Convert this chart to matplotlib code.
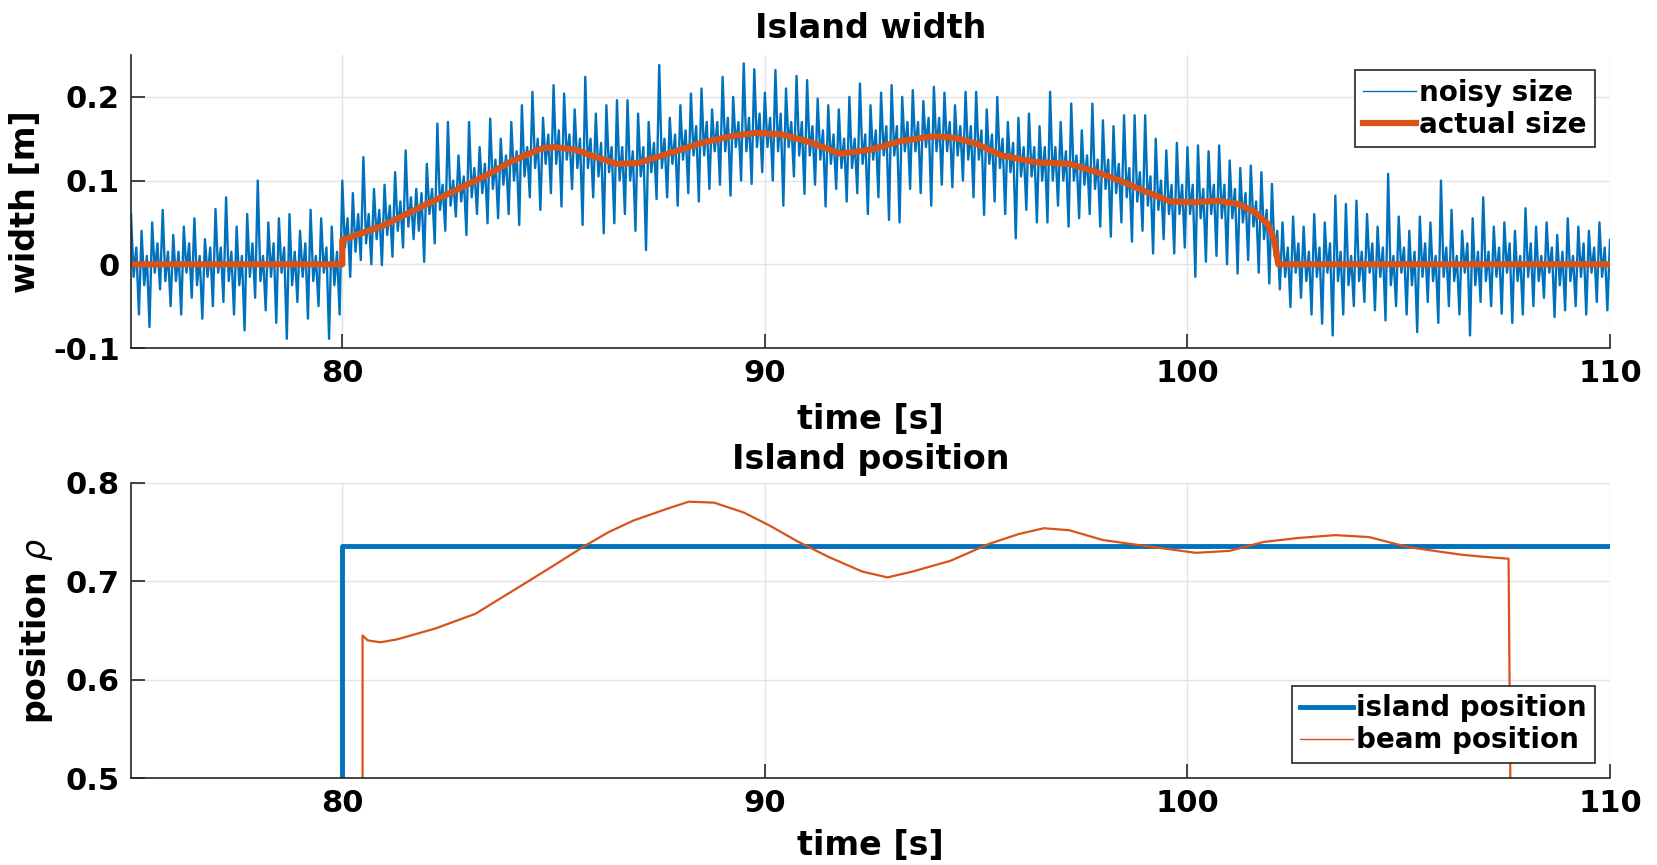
import numpy as np
import matplotlib
matplotlib.use("Agg")
import matplotlib.pyplot as plt
from matplotlib.lines import Line2D

plt.rcParams["font.family"] = "DejaVu Sans"
plt.rcParams["font.weight"] = "bold"
plt.rcParams["axes.unicode_minus"] = False
plt.rcParams["mathtext.fontset"] = "custom"
plt.rcParams["mathtext.it"] = "DejaVu Sans:italic:normal"
plt.rcParams["mathtext.rm"] = "DejaVu Sans:normal"

BLUE = "#0072BD"
ORANGE = "#D95319"
AX_COL = "#262626"
GRID_COL = "#e3e3e3"

# measured island width, one sample every 0.0625 s from 75 s to 110 s
noisy_size = [
    0.060, -0.015, 0.020, -0.060, 0.040, -0.025, 0.010, -0.075, 0.050, -0.010, 0.025, -0.030, 0.065, -0.020, 0.015, -0.050,  # 75
    0.035, -0.020, 0.015, -0.060, 0.045, -0.010, 0.025, -0.040, 0.055, -0.025, 0.010, -0.065, 0.030, -0.015, 0.020, -0.050,  # 76
    0.066, -0.010, 0.020, -0.045, 0.080, -0.020, 0.015, -0.060, 0.045, -0.025, 0.010, -0.079, 0.060, -0.015, 0.025, -0.040,  # 77
    0.100, -0.020, 0.010, -0.055, 0.050, -0.015, 0.025, -0.070, 0.055, -0.010, 0.020, -0.089, 0.060, -0.025, 0.015, -0.045,  # 78
    0.040, -0.015, 0.025, -0.065, 0.065, -0.020, 0.010, -0.050, 0.055, -0.010, 0.020, -0.089, 0.045, -0.025, 0.015, -0.060,  # 79
    0.100, 0.020, 0.055, -0.015, 0.085, 0.015, 0.060, 0.005, 0.128, 0.025, 0.060, 0.000, 0.090, 0.030, 0.065, -0.001,        # 80
    0.095, 0.035, 0.070, 0.009, 0.110, 0.040, 0.075, 0.020, 0.136, 0.045, 0.080, 0.030, 0.090, 0.040, 0.085, 0.003,          # 81
    0.120, 0.060, 0.090, 0.025, 0.168, 0.065, 0.095, 0.040, 0.170, 0.070, 0.100, 0.057, 0.130, 0.075, 0.105, 0.035,          # 82
    0.170, 0.080, 0.115, 0.060, 0.140, 0.085, 0.120, 0.049, 0.174, 0.090, 0.125, 0.055, 0.150, 0.095, 0.130, 0.060,          # 83
    0.170, 0.100, 0.135, 0.047, 0.190, 0.105, 0.140, 0.080, 0.206, 0.115, 0.150, 0.065, 0.175, 0.120, 0.155, 0.085,          # 84
    0.214, 0.120, 0.160, 0.069, 0.204, 0.125, 0.155, 0.090, 0.185, 0.115, 0.150, 0.047, 0.224, 0.115, 0.150, 0.080,          # 85
    0.180, 0.105, 0.145, 0.037, 0.190, 0.110, 0.140, 0.049, 0.196, 0.100, 0.140, 0.060, 0.196, 0.100, 0.135, 0.040,          # 86
    0.180, 0.105, 0.140, 0.017, 0.170, 0.110, 0.145, 0.078, 0.238, 0.115, 0.150, 0.080, 0.175, 0.120, 0.155, 0.070,          # 87
    0.190, 0.125, 0.160, 0.085, 0.204, 0.130, 0.165, 0.075, 0.210, 0.130, 0.170, 0.090, 0.185, 0.135, 0.170, 0.095,          # 88
    0.224, 0.135, 0.175, 0.082, 0.200, 0.140, 0.170, 0.100, 0.240, 0.135, 0.175, 0.096, 0.233, 0.140, 0.180, 0.110,          # 89
    0.205, 0.140, 0.175, 0.100, 0.232, 0.135, 0.180, 0.070, 0.210, 0.140, 0.170, 0.105, 0.225, 0.130, 0.170, 0.084,          # 90
    0.220, 0.130, 0.165, 0.095, 0.198, 0.125, 0.160, 0.069, 0.190, 0.120, 0.155, 0.090, 0.185, 0.115, 0.150, 0.075,          # 91
    0.200, 0.115, 0.150, 0.085, 0.216, 0.120, 0.155, 0.060, 0.190, 0.125, 0.160, 0.080, 0.205, 0.130, 0.165, 0.053,          # 92
    0.214, 0.130, 0.165, 0.050, 0.200, 0.135, 0.170, 0.090, 0.208, 0.135, 0.170, 0.085, 0.195, 0.140, 0.175, 0.070,          # 93
    0.212, 0.135, 0.175, 0.095, 0.205, 0.135, 0.170, 0.092, 0.190, 0.130, 0.165, 0.100, 0.206, 0.125, 0.165, 0.080,          # 94
    0.206, 0.125, 0.160, 0.059, 0.185, 0.120, 0.155, 0.075, 0.200, 0.115, 0.150, 0.060, 0.170, 0.110, 0.145, 0.031,          # 95
    0.175, 0.105, 0.140, 0.065, 0.180, 0.105, 0.140, 0.050, 0.165, 0.100, 0.140, 0.050, 0.206, 0.100, 0.140, 0.070,          # 96
    0.170, 0.100, 0.135, 0.045, 0.192, 0.100, 0.130, 0.055, 0.160, 0.095, 0.130, 0.060, 0.192, 0.090, 0.125, 0.045,          # 97
    0.172, 0.090, 0.125, 0.033, 0.165, 0.085, 0.120, 0.050, 0.178, 0.080, 0.115, 0.027, 0.178, 0.075, 0.110, 0.040,          # 98
    0.178, 0.070, 0.105, 0.013, 0.150, 0.065, 0.100, 0.030, 0.136, 0.060, 0.095, 0.013, 0.145, 0.060, 0.095, 0.020,          # 99
    0.140, 0.060, 0.095, -0.015, 0.142, 0.055, 0.090, 0.003, 0.135, 0.060, 0.095, 0.010, 0.142, 0.055, 0.095, 0.000,         # 100
    0.124, 0.055, 0.090, -0.011, 0.115, 0.050, 0.085, 0.005, 0.118, 0.045, 0.075, -0.010, 0.110, 0.030, 0.065, -0.023,       # 101
    0.096, 0.010, 0.040, -0.030, 0.050, -0.015, 0.020, -0.051, 0.057, -0.010, 0.025, -0.040, 0.045, -0.020, 0.015, -0.060,   # 102
    0.060, -0.015, 0.020, -0.071, 0.050, -0.010, 0.025, -0.085, 0.082, -0.020, 0.015, -0.060, 0.072, -0.025, 0.010, -0.050,  # 103
    0.076, -0.020, 0.015, -0.045, 0.060, -0.010, 0.025, -0.055, 0.045, -0.015, 0.020, -0.067, 0.108, -0.025, 0.010, -0.050,  # 104
    0.057, -0.010, 0.020, -0.060, 0.040, -0.025, 0.015, -0.081, 0.057, -0.015, 0.025, -0.045, 0.050, -0.020, 0.010, -0.070,  # 105
    0.100, -0.015, 0.020, -0.050, 0.065, -0.020, 0.010, -0.060, 0.040, -0.010, 0.025, -0.085, 0.055, -0.025, 0.015, -0.045,  # 106
    0.080, -0.020, 0.015, -0.050, 0.045, -0.015, 0.020, -0.059, 0.050, -0.010, 0.025, -0.070, 0.040, -0.020, 0.010, -0.060,  # 107
    0.067, -0.015, 0.025, -0.050, 0.045, -0.020, 0.010, -0.040, 0.050, -0.010, 0.020, -0.063, 0.035, -0.025, 0.015, -0.055,  # 108
    0.055, -0.020, 0.010, -0.050, 0.045, -0.015, 0.025, -0.060, 0.040, -0.010, 0.020, -0.045, 0.050, -0.015, 0.020, -0.055,  # 109
    0.029,                                                                                                                  # 110
]
noisy_t = np.linspace(75, 110, len(noisy_size))

# true island width
actual_t = [75, 80, 80, 80.5, 81, 81.8, 82.5, 83.4, 84.0, 84.7, 85.0, 85.5,
            86.0, 86.5, 87.0, 87.7, 88.5, 89.2, 89.8, 90.4, 91.0, 91.8, 92.5,
            93.2, 94.0, 94.5, 95.0, 95.6, 96.4, 97.2, 97.8, 98.4, 99.0, 99.6,
            100.2, 100.7, 101.2, 101.6, 101.9, 102.05, 102.15, 110]
actual_size = [0, 0, 0.029, 0.038, 0.047, 0.067, 0.084, 0.106, 0.123, 0.138,
               0.140, 0.137, 0.128, 0.120, 0.121, 0.132, 0.145, 0.153, 0.157,
               0.155, 0.147, 0.132, 0.137, 0.147, 0.153, 0.151, 0.144, 0.130,
               0.122, 0.120, 0.111, 0.100, 0.087, 0.075, 0.074, 0.076, 0.072,
               0.062, 0.048, 0.030, 0.0, 0.0]

# island and beam position
island_t = [80, 80, 110]
island_pos = [0.45, 0.736, 0.736]
beam_t = [80.48, 80.48, 80.6, 80.9, 81.3, 82.2, 83.15, 84.4, 85.0, 85.7, 86.3,
          86.9, 87.7, 88.2, 88.8, 89.5, 90.1, 90.8, 91.5, 92.3, 92.9, 93.5,
          94.4, 95.3, 96.0, 96.6, 97.2, 98.0, 99.0, 100.2, 101.0, 101.8,
          102.6, 103.5, 104.3, 105.2, 106.0, 106.5, 107.0, 107.6, 107.65]
beam_pos = [0.45, 0.645, 0.640, 0.638, 0.641, 0.652, 0.667, 0.700, 0.716,
            0.735, 0.750, 0.762, 0.774, 0.781, 0.780, 0.770, 0.757, 0.740,
            0.725, 0.710, 0.704, 0.710, 0.721, 0.738, 0.748, 0.754, 0.752,
            0.742, 0.736, 0.729, 0.731, 0.740, 0.744, 0.747, 0.745, 0.735,
            0.730, 0.727, 0.725, 0.723, 0.45]

W, H = 1657, 865
fig = plt.figure(figsize=(W / 100, H / 100), dpi=100)
ax1 = fig.add_axes([131 / W, 1 - 348 / H, (1610 - 131) / W, (348 - 55) / H])
ax2 = fig.add_axes([131 / W, 1 - 778 / H, (1610 - 131) / W, (778 - 483) / H])


def style(ax):
    ax.grid(True, color=GRID_COL, lw=1.0)
    ax.set_axisbelow(True)
    for s in ["top", "right"]:
        ax.spines[s].set_visible(False)
    for s in ["left", "bottom"]:
        ax.spines[s].set_color(AX_COL)
        ax.spines[s].set_linewidth(1.2)
    ax.tick_params(direction="in", length=10, width=1.2, color=AX_COL,
                   labelsize=22, pad=8)
    ax.set_xlim(75, 110)
    ax.set_xticks([80, 90, 100, 110])


def legend(ax, handles, labels, loc):
    leg = ax.legend(handles, labels, loc=loc, fontsize=20, handlelength=1.9,
                    handletextpad=0.1, borderpad=0.3, labelspacing=0.15,
                    borderaxespad=0.55, fancybox=False, framealpha=1)
    leg.get_frame().set_edgecolor(AX_COL)
    leg.get_frame().set_linewidth(1.2)


# top: width
ax1.plot(noisy_t, noisy_size, color=BLUE, lw=1.7)
ax1.plot(actual_t, actual_size, color=ORANGE, lw=4.5)
style(ax1)
ax1.set_ylim(-0.1, 0.25)
ax1.set_yticks([-0.1, 0, 0.1, 0.2])
ax1.set_yticklabels(["-0.1", "0", "0.1", "0.2"])
ax1.set_title("Island width", fontsize=24, fontweight="bold", pad=12)
ax1.set_xlabel("time [s]", fontsize=24, fontweight="bold", labelpad=11)
ax1.set_ylabel("width [m]", fontsize=24, fontweight="bold", labelpad=8)
legend(ax1, [Line2D([], [], color=BLUE, lw=1.0),
             Line2D([], [], color=ORANGE, lw=4.5)],
       ["noisy size", "actual size"], "upper right")

# bottom: position
ax2.plot(island_t, island_pos, color=BLUE, lw=3.5)
ax2.plot(beam_t, beam_pos, color=ORANGE, lw=1.6)
style(ax2)
ax2.set_ylim(0.5, 0.8)
ax2.set_yticks([0.5, 0.6, 0.7, 0.8])
ax2.set_title("Island position", fontsize=24, fontweight="bold", pad=10)
ax2.set_xlabel("time [s]", fontsize=24, fontweight="bold", labelpad=8)
ax2.set_ylabel(r"position $\rho$", fontsize=24, fontweight="bold", labelpad=8)
legend(ax2, [Line2D([], [], color=BLUE, lw=3.5),
             Line2D([], [], color=ORANGE, lw=1.0)],
       ["island position", "beam position"], "lower right")

plt.savefig("out.png", dpi=100)
